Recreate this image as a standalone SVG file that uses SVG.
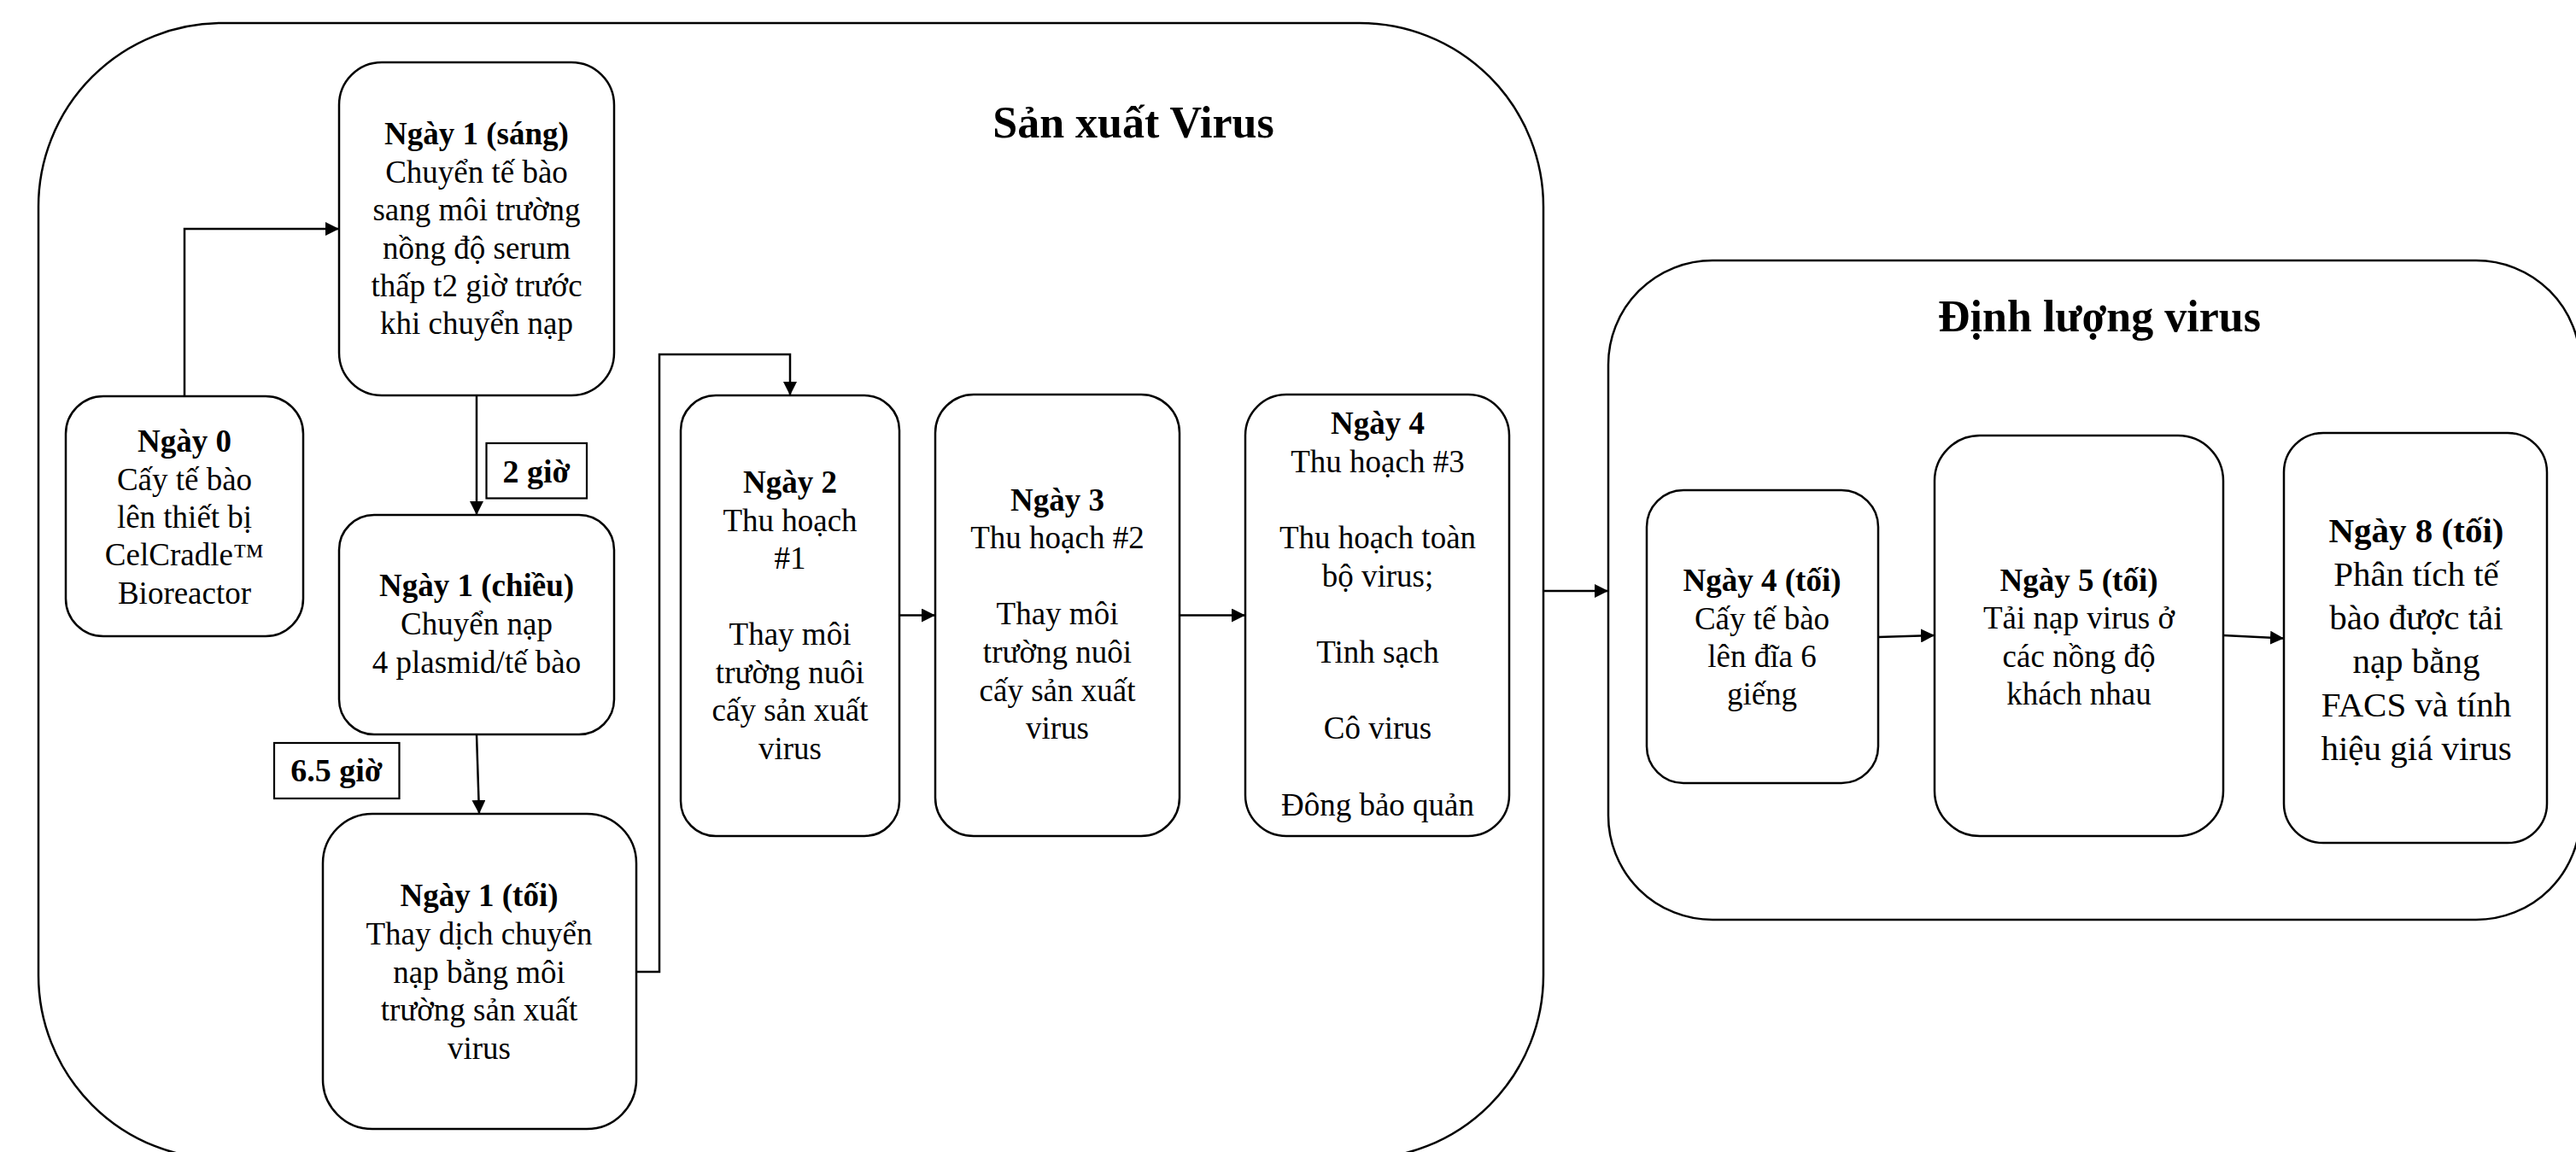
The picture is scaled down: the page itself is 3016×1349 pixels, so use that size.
<svg xmlns="http://www.w3.org/2000/svg" width="3016" height="1349" viewBox="0 0 3016 1349">
<defs>
<marker id="ah" markerWidth="16" markerHeight="16" refX="16" refY="8" orient="auto" markerUnits="userSpaceOnUse">
<path d="M0,0 L16,8 L0,16 Z" fill="#000"/>
</marker>
<style>
.cont{fill:none;stroke:#000;stroke-width:2.5}
.node{fill:#fff;stroke:#000;stroke-width:2.5}
.lbl{fill:#fff;stroke:#000;stroke-width:2.2}
.conn{fill:none;stroke:#000;stroke-width:2.5;marker-end:url(#ah)}
.seg{fill:none;stroke:#000;stroke-width:2.5}
text{font-family:"Liberation Serif","Times New Roman",serif;fill:#000;text-anchor:middle}
.t{font-size:37px}
.b{font-weight:bold}
.big{font-size:41px}
.ttl{font-size:52px;font-weight:bold}
.lb{font-size:38px;font-weight:bold}
</style>
</defs>
<rect width="3016" height="1349" fill="#fff"/>

<g id="container-san-xuat">
<rect class="cont" x="45" y="27" width="1762" height="1330" rx="215" ry="215"/>
<text class="ttl" x="1327" y="161">Sản xuất Virus</text>
</g>
<g id="container-dinh-luong">
<rect class="cont" x="1883" y="305" width="1138" height="772" rx="122" ry="122"/>
<text class="ttl" x="2458" y="388">Định lượng virus</text>
</g>

<g id="connectors">
<path class="conn" d="M216,464 V268 H397"/>
<path class="conn" d="M558,463 V603"/>
<path class="conn" d="M558,860 L561,953"/>
<path class="conn" d="M745,1138 H772 V415 H925 V463"/>
<path class="conn" d="M1053,720.5 H1095"/>
<path class="conn" d="M1381,720.5 H1458"/>
<path class="conn" d="M1807,692 H1883"/>
<path class="conn" d="M2199,746 L2265,744"/>
<path class="conn" d="M2603,744 L2674,747.5"/>
</g>

<g id="ngay0">
<rect class="node" x="77" y="464" width="278" height="281" rx="44" ry="44"/>
<text class="t"><tspan class="b" x="216" y="529">Ngày 0</tspan><tspan x="216" y="574">Cấy tế bào</tspan><tspan x="216" y="618">lên thiết bị</tspan><tspan x="216" y="662">CelCradle™</tspan><tspan x="216" y="707">Bioreactor</tspan></text>
</g>

<g id="ngay1-sang">
<rect class="node" x="397" y="73" width="322" height="390" rx="50" ry="50"/>
<text class="t"><tspan class="b" x="558" y="169">Ngày 1 (sáng)</tspan><tspan x="558" y="214">Chuyển tế bào</tspan><tspan x="558" y="258">sang môi trường</tspan><tspan x="558" y="303">nồng độ serum</tspan><tspan x="558" y="347">thấp t2 giờ trước</tspan><tspan x="558" y="391">khi chuyển nạp</tspan></text>
</g>

<g id="label-2gio">
<rect class="lbl" x="569.5" y="519" width="117.5" height="64.5"/>
<text class="lb" x="628" y="565">2 giờ</text>
</g>

<g id="ngay1-chieu">
<rect class="node" x="397" y="603" width="322" height="257" rx="41" ry="41"/>
<text class="t"><tspan class="b" x="558" y="698">Ngày 1 (chiều)</tspan><tspan x="558" y="743">Chuyển nạp</tspan><tspan x="558" y="788">4 plasmid/tế bào</tspan></text>
</g>

<g id="label-65gio">
<rect class="lbl" x="321" y="870" width="146.5" height="65"/>
<text class="lb" x="394" y="915">6.5 giờ</text>
</g>

<g id="ngay1-toi">
<rect class="node" x="378" y="953" width="367" height="369" rx="58" ry="58"/>
<text class="t"><tspan class="b" x="561" y="1061">Ngày 1 (tối)</tspan><tspan x="561" y="1106">Thay dịch chuyển</tspan><tspan x="561" y="1151">nạp bằng môi</tspan><tspan x="561" y="1195">trường sản xuất</tspan><tspan x="561" y="1240">virus</tspan></text>
</g>

<g id="ngay2">
<rect class="node" x="797" y="463" width="256" height="516" rx="41" ry="41"/>
<text class="t"><tspan class="b" x="925" y="577">Ngày 2</tspan><tspan x="925" y="622">Thu hoạch</tspan><tspan x="925" y="666">#1</tspan><tspan x="925" y="755">Thay môi</tspan><tspan x="925" y="800">trường nuôi</tspan><tspan x="925" y="844">cấy sản xuất</tspan><tspan x="925" y="889">virus</tspan></text>
</g>

<g id="ngay3">
<rect class="node" x="1095" y="462" width="286" height="517" rx="45" ry="45"/>
<text class="t"><tspan class="b" x="1238" y="598">Ngày 3</tspan><tspan x="1238" y="642">Thu hoạch #2</tspan><tspan x="1238" y="731">Thay môi</tspan><tspan x="1238" y="776">trường nuôi</tspan><tspan x="1238" y="821">cấy sản xuất</tspan><tspan x="1238" y="865">virus</tspan></text>
</g>

<g id="ngay4">
<rect class="node" x="1458" y="462" width="309" height="517" rx="48" ry="48"/>
<text class="t"><tspan class="b" x="1613" y="508">Ngày 4</tspan><tspan x="1613" y="553">Thu hoạch #3</tspan><tspan x="1613" y="642">Thu hoạch toàn</tspan><tspan x="1613" y="687">bộ virus;</tspan><tspan x="1613" y="776">Tinh sạch</tspan><tspan x="1613" y="865">Cô virus</tspan><tspan x="1613" y="955">Đông bảo quản</tspan></text>
</g>

<g id="ngay4-toi">
<rect class="node" x="1928" y="574" width="271" height="343" rx="43" ry="43"/>
<text class="t"><tspan class="b" x="2063" y="692">Ngày 4 (tối)</tspan><tspan x="2063" y="737">Cấy tế bào</tspan><tspan x="2063" y="781">lên đĩa 6</tspan><tspan x="2063" y="825">giếng</tspan></text>
</g>

<g id="ngay5-toi">
<rect class="node" x="2265" y="510" width="338" height="469" rx="53" ry="53"/>
<text class="t"><tspan class="b" x="2434" y="692">Ngày 5 (tối)</tspan><tspan x="2434" y="736">Tải nạp virus ở</tspan><tspan x="2434" y="781">các nồng độ</tspan><tspan x="2434" y="825">khách nhau</tspan></text>
</g>

<g id="ngay8-toi">
<rect class="node" x="2674" y="507" width="308" height="480" rx="46" ry="46"/>
<text class="big"><tspan class="b" x="2829" y="635">Ngày 8 (tối)</tspan><tspan x="2829" y="686">Phân tích tế</tspan><tspan x="2829" y="737">bào được tải</tspan><tspan x="2829" y="788">nạp bằng</tspan><tspan x="2829" y="839">FACS và tính</tspan><tspan x="2829" y="890">hiệu giá virus</tspan></text>
</g>
</svg>
